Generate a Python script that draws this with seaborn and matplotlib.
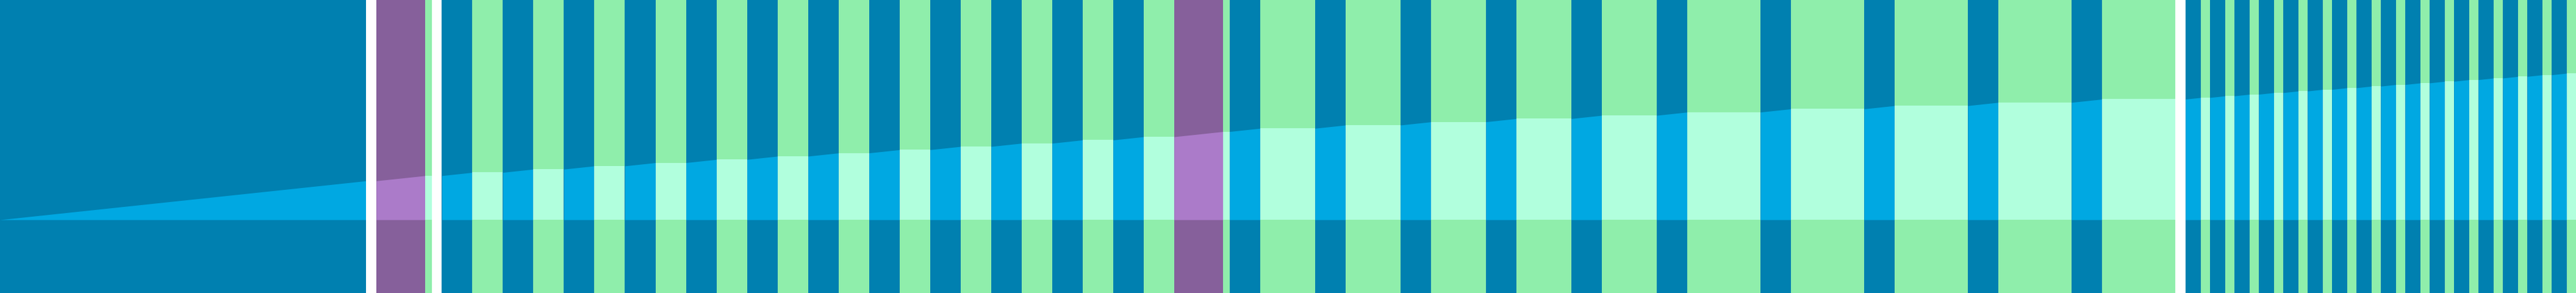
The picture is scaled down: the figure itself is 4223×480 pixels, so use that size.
import numpy as np
import pandas as pd
import matplotlib
matplotlib.use("Agg")
import matplotlib.pyplot as plt
import seaborn as sns

# session segments, in order (seconds)
seg_kind = (["work", "gap", "effort", "rest", "gap"]
            + ["work", "rest"] * 12
            + ["effort", "rest"]
            + ["work", "rest"] * 10
            + ["gap"]
            + ["work", "rest"] * 16)
seg_secs = ([720, 20, 96, 13, 20]
            + [60, 60, 60, 60, 60, 60, 60, 60, 60, 60, 60, 60,
               60, 60, 60, 60, 60, 60, 60, 60, 60, 60, 60, 60]
            + [96, 13]
            + [60, 108, 60, 108, 60, 108, 60, 108, 60, 108,
               60, 144, 60, 144, 60, 144, 60, 144, 60, 144]
            + [20]
            + [30, 18, 30, 18, 30, 18, 30, 18, 30, 18, 30, 18, 30, 18, 30, 18,
               30, 18, 30, 18, 30, 18, 30, 18, 30, 18, 30, 18, 30, 18, 30, 18])

band_colors = {"work": "#0080B0", "rest": "#8FEEAB", "effort": "#86609B", "gap": "#FFFFFF"}
fill_colors = {"work": "#00A8E2", "rest": "#B1FFDD", "effort": "#AB7BC9"}

df = pd.DataFrame({"kind": seg_kind, "secs": seg_secs})
df["end"] = df["secs"].cumsum()
df["start"] = df["end"] - df["secs"]
df["active"] = np.where(df["kind"].isin(["work", "effort"]), df["secs"], 0)
df["cum_end"] = df["active"].cumsum()
df["cum_start"] = df["cum_end"] - df["active"]

total_time = df["end"].iloc[-1]
total_work = df["cum_end"].iloc[-1]

sns.set_theme(style="white")
fig = plt.figure(figsize=(42.23, 4.8), dpi=100)
ax = fig.add_axes([0, 0, 1, 1])

for _, seg in df.iterrows():
    ax.axvspan(seg["start"], seg["end"], color=band_colors[seg["kind"]], lw=0)
    if seg["kind"] != "gap":
        ax.fill_between([seg["start"], seg["end"]], 0, [seg["cum_start"], seg["cum_end"]],
                        color=fill_colors[seg["kind"]], lw=0)

ax.set_xlim(0, total_time)
ax.set_ylim(-0.5 * total_work, 1.5 * total_work)
ax.axis("off")

fig.savefig("out.png", dpi=100)
plt.close(fig)
